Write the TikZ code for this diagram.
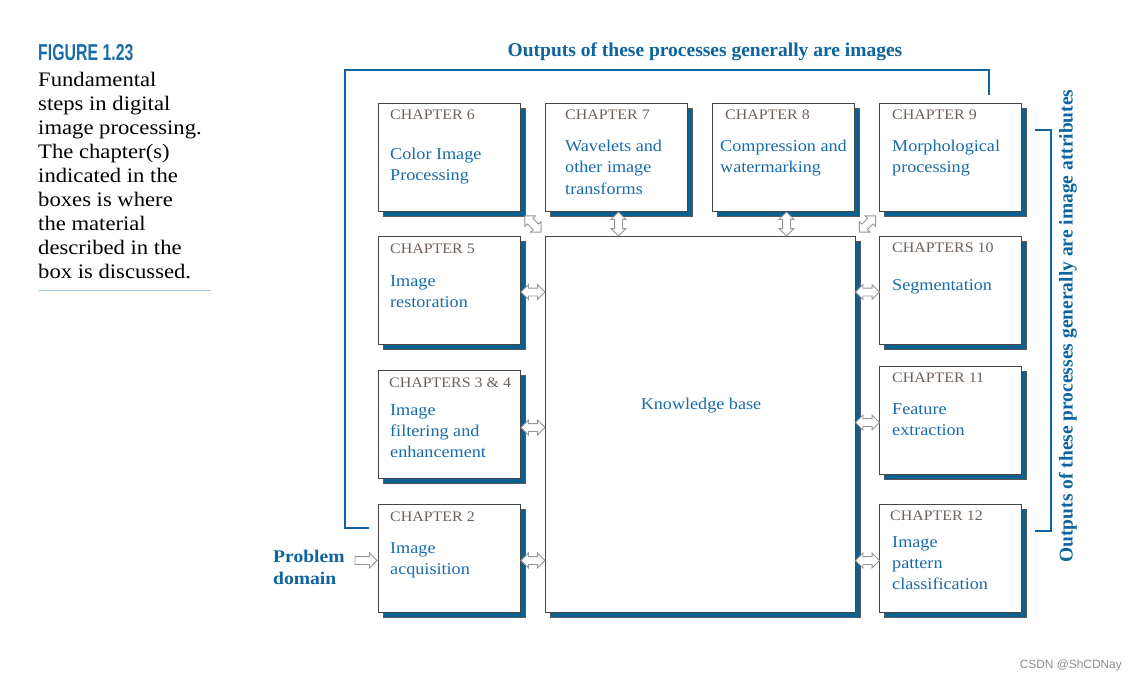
\documentclass[tikz,border=0pt]{standalone}
\usepackage{fontspec}
\setmainfont{Liberation Serif}[FakeStretch=1.1]
\newfontfamily\hdfont{Liberation Serif}
\newfontfamily\figfont{Liberation Sans}[FakeStretch=0.69]
\newfontfamily\wmfont{Liberation Sans}
\usetikzlibrary{shapes.arrows,shadows,calc}
\definecolor{tblue}{RGB}{24,108,170}
\definecolor{hblue}{RGB}{14,100,158}
\definecolor{sblue}{RGB}{10,96,145}
\definecolor{lblgray}{RGB}{110,98,90}
\definecolor{bgray}{RGB}{70,70,70}
\definecolor{agray}{RGB}{150,150,150}
\definecolor{rblue}{RGB}{160,200,228}
\tikzset{
  box/.style={draw=bgray, line width=1pt, fill=white, minimum width=142pt, minimum height=108pt,
    inner sep=0, anchor=north west,
    drop shadow={shadow xshift=5pt, shadow yshift=-5pt, fill=sblue, draw=black!65, line width=0.8pt, opacity=1}},
  lbl/.style={anchor=north west, inner sep=0, text=lblgray, font=\fontsize{14.5}{17}\selectfont},
  body/.style={anchor=north west, inner sep=0, text=tblue, align=left, font=\fontsize{16.5}{21.3}\selectfont},
  darr/.style={double arrow, draw=agray, fill=white, line width=0.9pt, inner sep=3.5pt,
    minimum height=24pt, double arrow head extend=3.5pt},
  sarr/.style={single arrow, draw=agray, fill=white, line width=0.9pt, inner sep=3.5pt,
    minimum height=22pt, single arrow head extend=3.5pt},
  bracket/.style={draw=hblue, line width=2.4pt},
  hd/.style={inner sep=0, text=hblue, font=\hdfont\bfseries\fontsize{19.5}{22}\selectfont}
}
\begin{document}
\begin{tikzpicture}[x=1pt,y=-1pt]
\useasboundingbox (0,0) rectangle (1136,681);
% caption
\node[anchor=north west, inner sep=0, text=tblue, font=\figfont\bfseries\fontsize{23}{24}\selectfont] (fig) at (38,44) {FIGURE 1.23};
\node[anchor=north west, inner sep=0, align=left, font=\fontsize{20.6}{24}\selectfont] (cap) at (38,72)
  {Fundamental\\steps in digital\\image processing.\\The chapter(s)\\indicated in the\\boxes is where\\the material\\described in the\\box is discussed.};
\coordinate (r1) at (38,290);
\coordinate (r2) at (211,290);
\draw[rblue, line width=1pt] (r1) -- (r2);
% headings
\node[hd] (top) at (705,52) {Outputs of these processes generally are images};
\node[hd, rotate=90] (side) at (1068,326) {Outputs of these processes generally are image attributes};
% brackets
\coordinate (b1) at (369,528);
\coordinate (b2) at (345,70);
\coordinate (b3) at (989,95);
\draw[bracket] (b1) -| (b2) -| (b3);
\coordinate (c1) at (1035,130);
\coordinate (c2) at (1051,531);
\coordinate (c3) at (1035,531);
\draw[bracket] (c1) -| (c2) -- (c3);
% boxes
\node[box] (ch6) at (378,103) {};
\node[box] (ch7) at (545,103) {};
\node[box] (ch8) at (712,103) {};
\node[box] (ch9) at (879,103) {};
\node[box] (ch5) at (378,236) {};
\node[box] (ch34) at (378,370) {};
\node[box] (ch2) at (378,504) {};
\node[box] (ch10) at (879,236) {};
\node[box] (ch11) at (879,366) {};
\node[box] (ch12) at (879,504) {};
\node[box, minimum width=310pt, minimum height=376pt] (kb) at (545,236) {};
% labels
\node[lbl] (l6) at (390,110) {CHAPTER 6};
\node[lbl] (l7) at (565,110) {CHAPTER 7};
\node[lbl] (l8) at (725,110) {CHAPTER 8};
\node[lbl] (l9) at (892,110) {CHAPTER 9};
\node[lbl] (l5) at (390,244) {CHAPTER 5};
\node[lbl] (l34) at (389,378) {CHAPTERS 3 \& 4};
\node[lbl] (l2) at (390,512) {CHAPTER 2};
\node[lbl] (l10) at (892,243) {CHAPTERS 10};
\node[lbl] (l11) at (892,373) {CHAPTER 11};
\node[lbl] (l12) at (890,511) {CHAPTER 12};
% bodies
\node[body] (t6) at (390,148) {Color Image\\Processing};
\node[body] (t7) at (565,140) {Wavelets and\\other image\\transforms};
\node[body] (t8) at (720,140) {Compression and\\watermarking};
\node[body] (t9) at (892,140) {Morphological\\processing};
\node[body] (t5) at (390,275) {Image\\restoration};
\node[body] (t34) at (390,404) {Image\\filtering and\\enhancement};
\node[body] (t2) at (390,542) {Image\\acquisition};
\node[body] (t10) at (892,279) {Segmentation};
\node[body] (t11) at (892,403) {Feature\\extraction};
\node[body] (t12) at (892,536) {Image\\pattern\\classification};
\node[inner sep=0, text=tblue, font=\fontsize{16.5}{21.3}\selectfont] (tkb) at (701,406) {Knowledge base};
% problem domain
\node[anchor=north west, inner sep=0, align=left, text=hblue, font=\bfseries\fontsize{17.8}{22}\selectfont] (pd) at (273,550) {Problem\\domain};
\node[sarr] (pa) at ($(ch2.west)+(-14,2)$) {};
% arrows to knowledge base
\node[darr] (a5) at ($(ch5.east)!0.5!(kb.west |- ch5.east)+(0,1.5)$) {};
\node[darr] (a34) at ($(ch34.east)!0.5!(kb.west |- ch34.east)+(0,3)$) {};
\node[darr] (a2) at ($(ch2.east)!0.5!(kb.west |- ch2.east)+(0,2)$) {};
\node[darr] (a10) at ($(ch10.west)!0.5!(kb.east |- ch10.west)+(0,1.5)$) {};
\node[darr] (a11) at ($(ch11.west)!0.5!(kb.east |- ch11.west)+(0,2)$) {};
\node[darr] (a12) at ($(ch12.west)!0.5!(kb.east |- ch12.west)+(0,2)$) {};
\node[darr, rotate=90] (a7) at ($(ch7.south)!0.5!(kb.north -| ch7.south)+(2,0)$) {};
\node[darr, rotate=90] (a8) at ($(ch8.south)!0.5!(kb.north -| ch8.south)+(3,0)$) {};
\node[darr, rotate=-45, minimum height=23pt] (a6) at ($(ch6.south east)!0.5!(kb.north west)$) {};
\node[darr, rotate=45, minimum height=23pt] (a9) at ($(ch9.south west)!0.5!(kb.north east)$) {};
% watermark
\node[anchor=east, inner sep=0, text=black!45, font=\wmfont\fontsize{11.9}{14}\selectfont] (wm) at (1122,665) {CSDN @ShCDNay};
\end{tikzpicture}
\end{document}
